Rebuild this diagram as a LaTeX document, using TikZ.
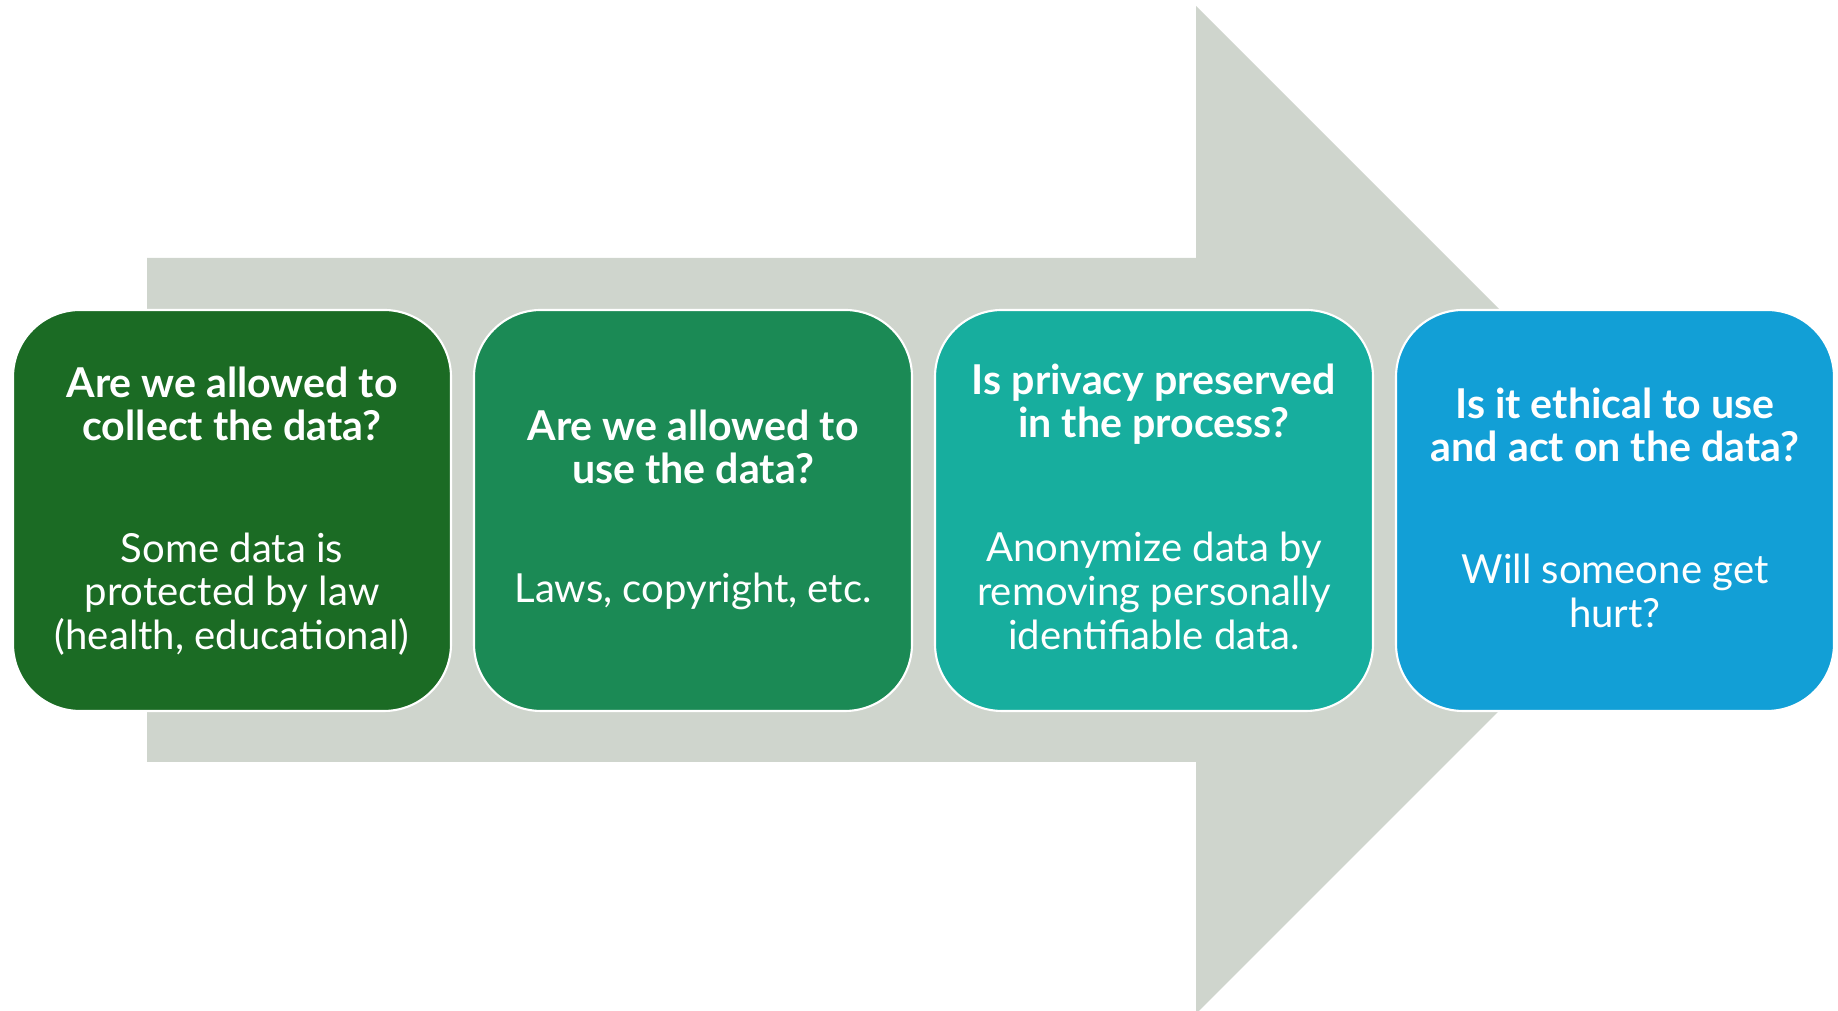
\documentclass[tikz,border=0pt]{standalone}
\usepackage{fontspec}
\setmainfont{Lato}
\definecolor{arrowgray}{HTML}{CFD5CD}
\definecolor{stepA}{HTML}{1B6B24}
\definecolor{stepB}{HTML}{1B8A55}
\definecolor{stepC}{HTML}{17AE9E}
\definecolor{stepD}{HTML}{129FD6}
\tikzset{
    qbox/.style={draw=white, line width=0.6pt, rounded corners=0.67cm,
        minimum width=4.38cm, minimum height=4.01cm},
    qhead/.style={font=\bfseries\fontsize{11.7}{12.4}\selectfont, text=white, align=center},
    qbody/.style={font=\fontsize{11.4}{12.4}\selectfont, text=white, align=center},
}
\begin{document}
\begin{tikzpicture}
        \useasboundingbox (0,0) rectangle (18.38,10.11);

        % Big arrow behind the boxes
        \fill[arrowgray] (1.47,2.49) -- (1.47,7.53) -- (11.96,7.53) -- (11.96,10.05)
            -- (17.00,5.01) -- (11.96,-0.03) -- (11.96,2.49) -- cycle;

        % Boxes
        \foreach \i/\c in {1/stepA, 2/stepB, 3/stepC, 4/stepD} {
            \node[qbox, fill=\c] (b\i) at ({2.32+4.61*(\i-1)}, 5.005) {};
        }

        % Step 1
        \node[qhead] (q1) at (2.32, 6.07) {Are we allowed to\\collect the data?};
        \node[qbody] (d1) at (2.32, 4.17) {Some data is\\protected by law\\(health, educational)};

        % Step 2
        \node[qhead] (q2) at (6.93, 5.64) {Are we allowed to\\use the data?};
        \node[qbody] (d2) at (6.93, 4.20) {Laws, copyright, etc.};

        % Step 3
        \node[qhead] (q3) at (11.54, 6.07) {Is privacy preserved\\in the process?};
        \node[qbody] (d3) at (11.54, 4.20) {Anonymize data by\\removing personally\\identifiable data.};

        % Step 4
        \node[qhead] (q4) at (16.15, 5.86) {Is it ethical to use\\and act on the data?};
        \node[qbody] (d4) at (16.15, 4.20) {Will someone get\\hurt?};
    \end{tikzpicture}
\end{document}
